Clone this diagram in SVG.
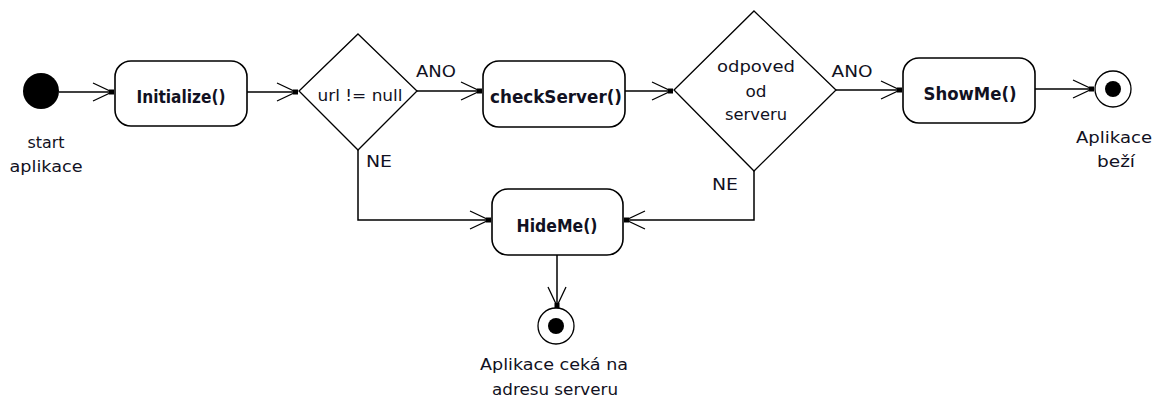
<svg xmlns="http://www.w3.org/2000/svg" width="1161" height="398" viewBox="0 0 1161 398">
<style>
.box{fill:#fff;stroke:#000;stroke-width:1.6}
.dia{fill:#fff;stroke:#000;stroke-width:1.3}
.ln{fill:none;stroke:#000;stroke-width:1.5;marker-end:url(#arr)}
.t{font-family:"DejaVu Sans",Verdana,sans-serif;font-size:16px;fill:#111122;text-anchor:middle}
.b{font-family:"DejaVu Sans",Verdana,sans-serif;font-size:17px;font-weight:bold;fill:#111122;text-anchor:middle}
</style>
<defs>
<marker id="arr" markerUnits="userSpaceOnUse" viewBox="-22 -11 24 22" refX="0" refY="0" markerWidth="24" markerHeight="22" orient="auto">
<path d="M-20,-9 L-1,0 L-20,9" fill="none" stroke="#000" stroke-width="1.3"/>
<rect x="-4" y="-2.5" width="5" height="5" fill="#000"/>
</marker>
</defs>
<g id="connectors">
<path class="ln" d="M59,92 L113,92"/>
<path class="ln" d="M247,92 L297,92"/>
<path class="ln" d="M417,91 L481,91"/>
<path class="ln" d="M625,91 L672,91"/>
<path class="ln" d="M836,90 L901,90"/>
<path class="ln" d="M1035,89 L1093,89"/>
<path class="ln" d="M358,150 L358,220 L490,220"/>
<path class="ln" d="M754,171 L754,220 L625,220"/>
<path class="ln" d="M557,255 L557,307"/>
<text class="t" x="436" y="77" textLength="40" lengthAdjust="spacingAndGlyphs">ANO</text>
<text class="t" x="379" y="167" textLength="26" lengthAdjust="spacingAndGlyphs">NE</text>
<text class="t" x="852" y="77" textLength="41" lengthAdjust="spacingAndGlyphs">ANO</text>
<text class="t" x="725" y="190" textLength="26" lengthAdjust="spacingAndGlyphs">NE</text>
</g>
<g id="start">
<circle cx="41" cy="91" r="18" fill="#000"/>
<text class="t" x="46" y="148" textLength="37" lengthAdjust="spacingAndGlyphs">start</text>
<text class="t" x="46" y="172" textLength="73" lengthAdjust="spacingAndGlyphs">aplikace</text>
</g>
<g id="initialize">
<rect class="box" x="115" y="61" width="132" height="65" rx="16"/>
<text class="b" x="181" y="103" textLength="89" lengthAdjust="spacingAndGlyphs">Initialize()</text>
</g>
<g id="decision1">
<polygon class="dia" points="358,34 417,91 358,150 299,91"/>
<text class="t" x="360" y="101" textLength="85" lengthAdjust="spacingAndGlyphs">url != null</text>
</g>
<g id="checkServer">
<rect class="box" x="483" y="61" width="142" height="66" rx="16"/>
<text class="b" x="556" y="103" textLength="132" lengthAdjust="spacingAndGlyphs">checkServer()</text>
</g>
<g id="decision2">
<polygon class="dia" points="754,11 836,90 754,171 674,90"/>
<text class="t" x="756" y="72" textLength="78" lengthAdjust="spacingAndGlyphs">odpoved</text>
<text class="t" x="756" y="97" textLength="21" lengthAdjust="spacingAndGlyphs">od</text>
<text class="t" x="756" y="120" textLength="62" lengthAdjust="spacingAndGlyphs">serveru</text>
</g>
<g id="showMe">
<rect class="box" x="903" y="58" width="132" height="65" rx="16"/>
<text class="b" x="970" y="100" textLength="93" lengthAdjust="spacingAndGlyphs">ShowMe()</text>
</g>
<g id="end1">
<circle cx="1113" cy="89" r="18" fill="#fff" stroke="#000" stroke-width="1.3"/>
<circle cx="1113" cy="89" r="8" fill="#000"/>
<text class="t" x="1114" y="143" textLength="76" lengthAdjust="spacingAndGlyphs">Aplikace</text>
<text class="t" x="1116" y="167" textLength="38" lengthAdjust="spacingAndGlyphs">beží</text>
</g>
<g id="hideMe">
<rect class="box" x="492" y="189" width="131" height="66" rx="16"/>
<text class="b" x="557" y="232" textLength="81" lengthAdjust="spacingAndGlyphs">HideMe()</text>
</g>
<g id="end2">
<circle cx="556" cy="326" r="18" fill="#fff" stroke="#000" stroke-width="1.3"/>
<circle cx="556" cy="326" r="8" fill="#000"/>
<text class="t" x="554" y="370" textLength="148" lengthAdjust="spacingAndGlyphs">Aplikace ceká na</text>
<text class="t" x="555" y="395" textLength="126" lengthAdjust="spacingAndGlyphs">adresu serveru</text>
</g>
</svg>
